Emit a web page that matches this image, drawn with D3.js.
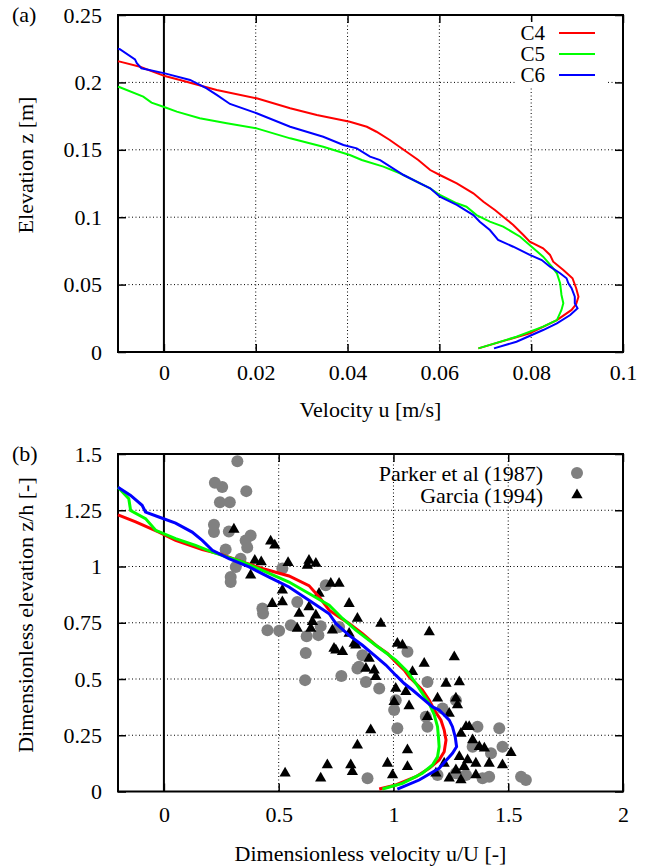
<!DOCTYPE html>
<html>
<head>
<meta charset="utf-8">
<script src="https://cdn.jsdelivr.net/npm/d3@7"></script>
<style>
  body { margin: 0; background: #fff; }
  svg text { font-family: "Liberation Serif", "Times New Roman", serif; fill: #000; }
</style>
</head>
<body>
<div id="chart"></div>
<script>
let w = 651;
let h = 866;

// ---- panel (a): velocity profiles [u (m/s), z (m)]
const c4Top = [[0.0685,0.0027],[0.0797,0.0139],[0.0856,0.0237],[0.0888,0.0312],[0.0898,0.0356],[0.0903,0.0410],
  [0.0898,0.0473],[0.0890,0.0547],[0.0870,0.0608],[0.0848,0.0670],[0.0841,0.0720],[0.0826,0.0769],[0.0797,0.0818],
  [0.0783,0.0868],[0.0761,0.0942],[0.0739,0.1004],[0.0721,0.1053],[0.0696,0.1115],[0.0674,0.1177],[0.0638,0.1251],
  [0.0601,0.1313],[0.0580,0.1350],[0.0554,0.1424],[0.0492,0.1573],[0.0463,0.1634],[0.0442,0.1671],[0.0405,0.1708],
  [0.0333,0.1758],[0.0275,0.1808],[0.0202,0.1882],[0.0115,0.1944],[0.0035,0.2018],[0.0002,0.2047],[-0.0052,0.2116],
  [-0.0096,0.2154],[-0.0100,0.2157]];
const c5Top = [[0.0685,0.0027],[0.0768,0.0113],[0.0826,0.0188],[0.0856,0.0237],[0.0866,0.0312],[0.0870,0.0361],
  [0.0866,0.0423],[0.0863,0.0510],[0.0856,0.0584],[0.0845,0.0633],[0.0826,0.0707],[0.0801,0.0781],[0.0776,0.0855],
  [0.0739,0.0930],[0.0710,0.0967],[0.0681,0.1016],[0.0659,0.1078],[0.0638,0.1103],[0.0601,0.1165],[0.0580,0.1214],
  [0.0551,0.1263],[0.0514,0.1326],[0.0478,0.1375],[0.0431,0.1424],[0.0405,0.1461],[0.0347,0.1523],[0.0275,0.1585],
  [0.0202,0.1659],[0.0137,0.1697],[0.0078,0.1734],[0.0028,0.1783],[0.0002,0.1816],[-0.0027,0.1850],[-0.0045,0.1894],
  [-0.0096,0.1964],[-0.0100,0.1968]];
const c6Top = [[0.0719,0.0027],[0.0768,0.0076],[0.0826,0.0163],[0.0856,0.0213],[0.0885,0.0274],[0.0901,0.0324],
  [0.0895,0.0361],[0.0895,0.0410],[0.0888,0.0473],[0.0881,0.0510],[0.0877,0.0547],[0.0863,0.0584],[0.0841,0.0633],
  [0.0823,0.0682],[0.0797,0.0720],[0.0761,0.0781],[0.0728,0.0831],[0.0710,0.0905],[0.0688,0.0967],[0.0674,0.1016],
  [0.0638,0.1091],[0.0601,0.1152],[0.0580,0.1214],[0.0558,0.1251],[0.0522,0.1313],[0.0471,0.1424],[0.0449,0.1449],
  [0.0420,0.1511],[0.0391,0.1536],[0.0347,0.1597],[0.0275,0.1671],[0.0202,0.1771],[0.0144,0.1840],[0.0115,0.1907],
  [0.0093,0.1956],[0.0057,0.2018],[0.0002,0.2067],[-0.0049,0.2105],[-0.0059,0.2142],[-0.0063,0.2171],[-0.0096,0.2246],
  [-0.0100,0.2250]];

// ---- panel (b): dimensionless profiles [u/U, z/h]
const c4Bot = [[0.938,0.011],[1.010,0.029],[1.098,0.066],[1.156,0.103],[1.199,0.140],[1.221,0.177],[1.229,0.229],
  [1.221,0.273],[1.207,0.317],[1.178,0.362],[1.156,0.406],[1.126,0.451],[1.098,0.480],[1.068,0.510],[1.047,0.539],
  [1.010,0.576],[0.974,0.614],[0.923,0.650],[0.865,0.702],[0.807,0.747],[0.763,0.776],[0.720,0.806],[0.680,0.860],
  [0.632,0.915],[0.545,0.958],[0.429,0.991],[0.342,1.020],[0.240,1.057],[0.167,1.075],[0.051,1.116],[-0.022,1.153],
  [-0.123,1.198],[-0.200,1.229]];
const c5Bot = [[0.952,0.011],[1.039,0.036],[1.126,0.081],[1.170,0.118],[1.192,0.154],[1.199,0.199],[1.196,0.243],
  [1.192,0.288],[1.178,0.340],[1.156,0.391],[1.126,0.436],[1.098,0.480],[1.061,0.532],[1.010,0.584],[0.952,0.628],
  [0.894,0.672],[0.836,0.717],[0.778,0.769],[0.720,0.828],[0.632,0.880],[0.545,0.931],[0.429,0.983],[0.342,1.020],
  [0.211,1.064],[0.138,1.094],[0.051,1.124],[-0.036,1.161],[-0.080,1.213],[-0.145,1.249],[-0.153,1.301],[-0.200,1.352]];
const c6Bot = [[1.017,0.011],[1.112,0.051],[1.199,0.103],[1.257,0.170],[1.275,0.199],[1.269,0.243],[1.257,0.288],
  [1.243,0.317],[1.221,0.340],[1.199,0.362],[1.170,0.376],[1.126,0.414],[1.083,0.451],[1.047,0.480],[1.010,0.517],
  [0.967,0.562],[0.916,0.606],[0.865,0.650],[0.807,0.694],[0.749,0.747],[0.720,0.790],[0.632,0.850],[0.545,0.909],
  [0.458,0.953],[0.371,0.998],[0.283,1.035],[0.211,1.072],[0.167,1.116],[0.123,1.153],[0.051,1.193],[-0.022,1.220],
  [-0.080,1.242],[-0.095,1.272],[-0.145,1.316],[-0.200,1.352]];

// Parker et al (1987), grey circles
const parker = [[0.320,1.468],[0.222,1.372],[0.254,1.353],[0.359,1.335],[0.244,1.286],[0.287,1.286],[0.218,1.186],
  [0.218,1.153],[0.283,1.156],[0.378,1.138],[0.356,1.116],[0.363,1.084],[0.269,1.076],[0.334,1.035],[0.313,0.998],
  [0.291,0.953],[0.291,0.931],[0.516,0.991],[0.429,0.813],[0.581,0.842],[0.705,0.917],[0.432,0.791],[0.451,0.717],
  [0.502,0.714],[0.553,0.739],[0.622,0.690],[0.673,0.695],[0.618,0.616],[0.615,0.495],[0.773,0.513],[0.683,0.735],
  [0.843,0.547],[0.763,0.731],[0.865,0.606],[0.850,0.554],[0.880,0.487],[0.938,0.458],[1.061,0.621],[1.148,0.487],
  [1.010,0.406],[1.003,0.362],[1.141,0.332],[1.214,0.369],[1.272,0.406],[1.017,0.281],[1.148,0.288],[1.366,0.288],
  [1.461,0.281],[1.475,0.199],[1.425,0.170],[1.345,0.199],[0.887,0.059],[1.192,0.073],[1.417,0.066],[1.388,0.059],
  [1.556,0.066],[1.577,0.051],[1.272,0.081],[1.316,0.073]];

// Garcia (1994), black triangles
const garcia = [[0.305,1.165],[0.465,1.112],[0.483,1.094],[0.396,1.027],[0.424,1.020],[0.541,1.017],[0.378,0.961],
  [0.625,1.005],[0.516,0.894],[0.472,0.835],[0.516,0.842],[0.632,1.027],[0.662,1.013],[0.727,0.924],[0.763,0.924],
  [0.676,0.880],[0.807,0.835],[0.589,0.791],[0.632,0.820],[0.662,0.783],[0.581,0.724],[0.640,0.724],[0.647,0.754],
  [0.734,0.717],[0.807,0.702],[0.749,0.628],[0.778,0.621],[0.836,0.650],[0.843,0.206],[0.712,0.118],[0.814,0.118],
  [0.821,0.088],[0.683,0.059],[0.528,0.081],[0.843,0.769],[0.945,0.747],[1.156,0.709],[0.829,0.658],[0.741,0.636],
  [1.017,0.658],[1.039,0.650],[1.265,0.598],[1.134,0.569],[0.894,0.591],[0.880,0.547],[0.916,0.539],[0.923,0.510],
  [1.083,0.532],[1.229,0.480],[1.287,0.487],[1.010,0.458],[1.054,0.443],[1.192,0.414],[1.272,0.414],[1.279,0.384],
  [1.003,0.399],[1.068,0.380],[1.243,0.347],[1.148,0.332],[1.316,0.288],[1.330,0.288],[0.901,0.273],[1.294,0.258],
  [1.345,0.229],[1.374,0.199],[1.061,0.184],[1.512,0.172],[1.396,0.192],[1.287,0.154],[1.323,0.140],[1.359,0.125],
  [1.417,0.125],[1.475,0.118],[0.974,0.125],[1.308,0.110],[1.061,0.110],[0.996,0.073],[1.221,0.125],[1.272,0.095],
  [1.359,0.073],[1.243,0.059],[1.294,0.051],[1.185,0.081]];

// ticks
const xTicksTop = [0, 0.02, 0.04, 0.06, 0.08, 0.1];
const yTicksTop = [0, 0.05, 0.1, 0.15, 0.2, 0.25];
const xTicksBot = [0, 0.5, 1, 1.5, 2];
const yTicksBot = [0, 0.25, 0.5, 0.75, 1, 1.25, 1.5];
const seriesNames = ["C4", "C5", "C6"];
const seriesColors = ["#ff0000", "#00ff00", "#0000ff"];
const serif = "'Liberation Serif', 'Times New Roman', serif";

let svg = d3.select("#chart")
    .append("svg")
    .attr("width", w)
    .attr("height", h);

function panel(opt) {
    let x = d3.scaleLinear().domain(opt.xDomain).range([118, 623]);
    let y = d3.scaleLinear().domain(opt.yDomain).range([opt.bottom, opt.top]);
    let g = svg.append("g");

    // grid (dotted)
    g.selectAll(".gx")
        .data(opt.xTicks.filter(d => d != 0 && d < opt.xDomain[1]))
        .enter().append("line")
        .attr("x1", d => x(d)).attr("x2", d => x(d))
        .attr("y1", opt.top).attr("y2", opt.bottom)
        .style("stroke", "#000").style("stroke-width", 1)
        .style("stroke-dasharray", "1,2.5");
    g.selectAll(".gy")
        .data(opt.yTicks.filter(d => d > opt.yDomain[0] && d < opt.yDomain[1]))
        .enter().append("line")
        .attr("x1", 118).attr("x2", 623)
        .attr("y1", d => y(d)).attr("y2", d => y(d))
        .style("stroke", "#000").style("stroke-width", 1)
        .style("stroke-dasharray", "1,2.5");

    // zero line
    g.append("line")
        .attr("x1", x(0)).attr("x2", x(0))
        .attr("y1", opt.top).attr("y2", opt.bottom)
        .style("stroke", "#000").style("stroke-width", 2);

    // axes with inward ticks
    let fmt = d => String(d);
    g.append("g").attr("transform", "translate(0," + opt.bottom + ")")
        .call(d3.axisBottom(x).tickValues(opt.xTicks).tickFormat(fmt).tickSize(-8).tickPadding(opt.xPad));
    g.append("g").attr("transform", "translate(0," + opt.top + ")")
        .call(d3.axisTop(x).tickValues(opt.xTicks).tickFormat("").tickSize(-8));
    g.append("g").attr("transform", "translate(118,0)")
        .call(d3.axisLeft(y).tickValues(opt.yTicks).tickFormat(fmt).tickSize(-8).tickPadding(16));
    g.append("g").attr("transform", "translate(623,0)")
        .call(d3.axisRight(y).tickValues(opt.yTicks).tickFormat("").tickSize(-8));
    g.selectAll(".domain").remove();
    g.selectAll(".tick line").style("stroke", "#000").style("stroke-width", 1.5);
    g.selectAll(".tick text").style("font-size", "22px").style("font-family", serif);

    // frame
    g.append("rect")
        .attr("x", 118).attr("y", opt.top)
        .attr("width", 623 - 118).attr("height", opt.bottom - opt.top)
        .style("fill", "none").style("stroke", "#000").style("stroke-width", 2);

    // labels
    g.append("text").attr("x", 370.5).attr("y", opt.xTitleY)
        .attr("text-anchor", "middle").style("font-size", "22px").style("font-family", serif).text(opt.xTitle);
    g.append("text")
        .attr("transform", "translate(33," + opt.yTitleC + ") rotate(-90)")
        .attr("text-anchor", "middle").style("font-size", "22px").style("font-family", serif).text(opt.yTitle);
    g.append("text").attr("x", 12).attr("y", opt.top + 7)
        .style("font-size", "22px").style("font-family", serif).text(opt.tag);

    return {x: x, y: y, g: g};
}

// ---------- panel (a)
let a = panel({
    xDomain: [-0.01, 0.1], yDomain: [0, 0.25], top: 15, bottom: 352,
    xTicks: xTicksTop, yTicks: yTicksTop, xPad: 12,
    xTitle: "Velocity u [m/s]", xTitleY: 417,
    yTitle: "Elevation z [m]", yTitleC: 165, tag: "(a)"
});

// legend box blanks the grid
a.g.append("rect").attr("x", 515).attr("y", 22).attr("width", 93).attr("height", 64).style("fill", "#fff");

let lineA = d3.line().x(d => a.x(d[0])).y(d => a.y(d[1]));
[c4Top, c5Top, c6Top].forEach(function(ds, i) {
    a.g.append("path").datum(ds)
        .attr("d", lineA)
        .style("fill", "none").style("stroke", seriesColors[i]).style("stroke-width", 2);
});

seriesNames.forEach(function(n, i) {
    let yy = 33 + i * 21;
    a.g.append("text").attr("x", 545).attr("y", yy + 7)
        .attr("text-anchor", "end").style("font-size", "21px").style("font-family", serif).text(n);
    a.g.append("line").attr("x1", 559).attr("x2", 595).attr("y1", yy).attr("y2", yy)
        .style("stroke", seriesColors[i]).style("stroke-width", 2);
});

// ---------- panel (b)
let b = panel({
    xDomain: [-0.2, 2], yDomain: [0, 1.5], top: 454, bottom: 791.5,
    xTicks: xTicksBot, yTicks: yTicksBot, xPad: 15,
    xTitle: "Dimensionless velocity u/U [-]", xTitleY: 861,
    yTitle: "Dimensionless elevation z/h [-]", yTitleC: 615, tag: "(b)"
});

let tri = d3.symbol().type(d3.symbolTriangle).size(55);

b.g.selectAll(".parker")
    .data(parker).enter().append("circle")
    .attr("cx", d => b.x(d[0])).attr("cy", d => b.y(d[1]))
    .attr("r", 6)
    .style("fill", "#808080");

b.g.selectAll(".garcia")
    .data(garcia).enter().append("path")
    .attr("d", tri)
    .attr("transform", d => "translate(" + b.x(d[0]) + "," + b.y(d[1]) + ")")
    .style("fill", "#000");

let lineB = d3.line().x(d => b.x(d[0])).y(d => b.y(d[1]));
[c4Bot, c5Bot, c6Bot].forEach(function(ds, i) {
    b.g.append("path").datum(ds)
        .attr("d", lineB)
        .style("fill", "none").style("stroke", seriesColors[i]).style("stroke-width", 3);
});

// legend (b)
b.g.append("text").attr("x", 543).attr("y", 480.5).attr("text-anchor", "end")
    .style("font-size", "22px").style("font-family", serif).text("Parker et al (1987)");
b.g.append("text").attr("x", 543).attr("y", 502.5).attr("text-anchor", "end")
    .style("font-size", "22px").style("font-family", serif).text("Garcia (1994)");
b.g.append("circle").attr("cx", 577).attr("cy", 473).attr("r", 6).style("fill", "#808080");
b.g.append("path").attr("d", tri).attr("transform", "translate(577,495)").style("fill", "#000");
</script>
</body>
</html>
